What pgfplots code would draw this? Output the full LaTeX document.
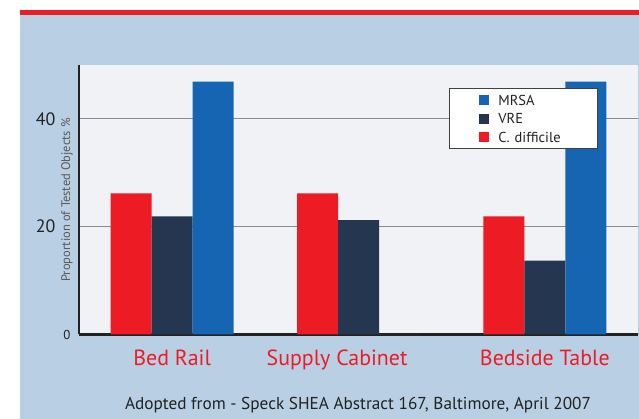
\documentclass[border=0pt]{standalone}
\usepackage{fontspec}
\setmainfont{PT Sans}
\usepackage{pgfplots}
\pgfplotsset{compat=1.18}
\definecolor{panel}{HTML}{B9CFE3}
\definecolor{plotbg}{HTML}{F0F2F5}
\definecolor{cdred}{HTML}{ED1C24}
\definecolor{vrenavy}{HTML}{243650}
\definecolor{mrsablue}{HTML}{1565B3}
\definecolor{ink}{HTML}{222222}
\begin{document}
\begin{tikzpicture}
\useasboundingbox (0bp,0bp) rectangle (639bp,419bp);
\fill[white] (0bp,0bp) rectangle (639bp,419bp);
\fill[panel] (20bp,0bp) rectangle (639bp,404bp);
\fill[cdred] (20bp,404bp) rectangle (639bp,409bp);
\begin{axis}[
    at={(79bp,84.5bp)}, anchor=south west,
    scale only axis, width=559bp, height=269.5bp,
    ybar=0pt, bar width=41bp,
    xmin=-0.5, xmax=2.5, ymin=0, ymax=50,
    xtick={0,0.885,2},
    xticklabels={Bed Rail, Supply Cabinet, Bedside Table},
    xticklabel style={text=cdred, font=\fontsize{22}{22}\selectfont, anchor=north, yshift=-12bp},
    ytick={0,20,40},
    yticklabels={{\fontsize{13}{13}\selectfont 0},{20\kern15bp},{40\kern15bp}},
    yticklabel style={text=ink, font=\fontsize{18}{18}\selectfont, anchor=east, xshift=-5bp},
    ymajorgrids, grid style={black!45, line width=0.8bp},
    axis x line*=bottom, axis y line*=left,
    axis line style={-, line width=2.5bp, color=ink},
    major tick length=0pt,
    axis background/.style={fill=plotbg},
    ylabel={Proportion of Tested Objects \%},
    ylabel style={at={(rel axis cs:0,0.5)}, anchor=center, yshift=12bp, font=\fontsize{12.5}{12.5}\selectfont, text=black!65},
    reverse legend,
    legend image code/.code={
        \path[use as bounding box, fill=none, draw=none] (-30bp,-9.25bp) rectangle (19bp,9.25bp);
        \fill[#1, draw=none] (0bp,-5bp) rectangle (10bp,5bp);},
    legend style={at={(0.662,0.915)}, anchor=north west, draw=black!75, line width=0.8bp,
        fill=white, font=\fontsize{14.5}{14.5}\selectfont, text=ink,
        inner xsep=0pt, inner ysep=2.5bp, row sep=0pt, column sep=0pt,
        nodes={inner sep=0pt, text width=99bp, text height=10.2bp, text depth=0pt},
        cells={anchor=west}},
]
\addplot[fill=cdred, draw=none] coordinates {(0,26.2) (1,26.2) (2,21.9)};
\addplot[fill=vrenavy, draw=none] coordinates {(0,21.9) (1,21.2) (2,13.7)};
\addplot[fill=mrsablue, draw=none] coordinates {(0,46.9) (1,0) (2,46.9)};
\legend{C. difficile, VRE, MRSA}
\end{axis}
\node[text=ink, font=\fontsize{17.3}{17.3}\selectfont] at (358bp,14bp) {Adopted from - Speck SHEA Abstract 167, Baltimore, April 2007};
\end{tikzpicture}
\end{document}
